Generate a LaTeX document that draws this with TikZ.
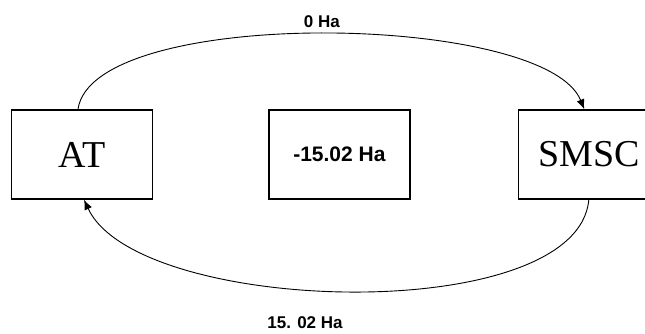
\documentclass[tikz,border=0pt]{standalone}
\usepackage{fontspec}
\setmainfont{Liberation Serif}
\setsansfont{Liberation Sans}
\usetikzlibrary{positioning,arrows.meta}

\begin{document}
\begin{tikzpicture}[
		x=1pt, y=1pt,
		>={Latex[length=10pt,width=8pt]},
		box/.style={
			draw,
			line width=1.4pt,
			minimum width=141pt,
			minimum height=89pt,
			inner sep=0pt,
			align=center
		},
		label/.style={
			font=\sffamily\bfseries\fontsize{17}{17}\selectfont
		}
		]
		
		\clip (0,0) rectangle (645,333);
		
		%--------------------------------------------------
		% Nodes
		%--------------------------------------------------
		
		\node[box,font=\fontsize{38}{38}\selectfont] (at) at (82,178.5) {AT};
		
		\node[box,font=\sffamily\bfseries\fontsize{21}{21}\selectfont] (energy) [right=115pt of at]
		{-15.02 Ha};
		
		\node[box,font=\fontsize{38}{38}\selectfont] (smsc) [right=107pt of energy]
		{SMSC};
		
		%--------------------------------------------------
		% Transfer arcs
		%--------------------------------------------------
		
		\draw[->,line width=0.9pt]
		([xshift=-4pt]at.north)
		to[out=82,in=112,looseness=0.53]
		node[above=3pt,label]{0 Ha}
		([xshift=-4.5pt]smsc.north);
		
		\draw[->,line width=0.9pt]
		(smsc.south)
		to[out=-95,in=-65,looseness=0.65]
		([xshift=2pt]at.south);
		
		\node[label] (back) at (305,10) {15. 02 Ha};
		
	\end{tikzpicture}
\end{document}
